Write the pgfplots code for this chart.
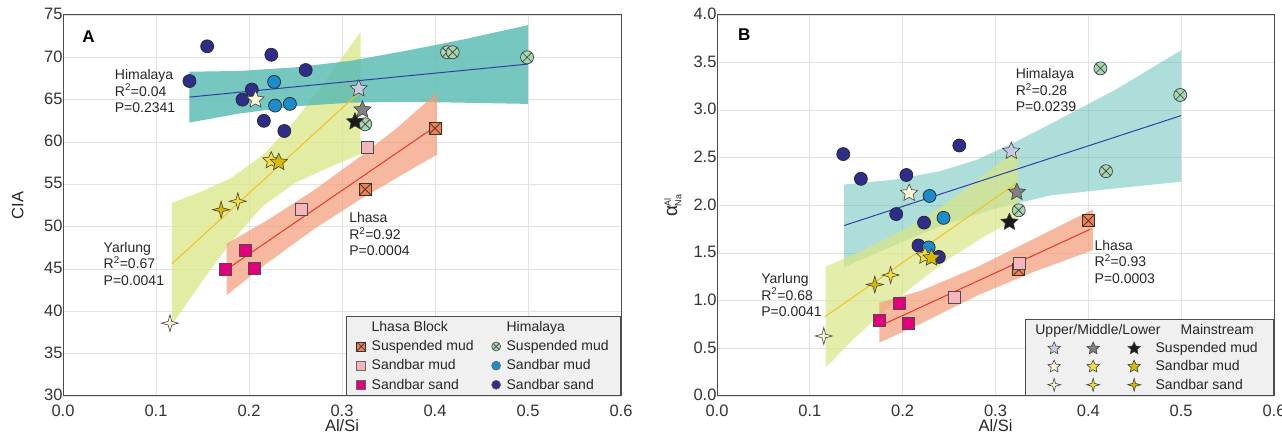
\documentclass[border=0pt]{standalone}
\usepackage{fontspec}
\setmainfont{Liberation Sans}
\usepackage{pgfplots}
\pgfplotsset{compat=1.18}

\definecolor{navyC}{HTML}{2E2D8A}
\definecolor{lblueC}{HTML}{1C8CCB}
\definecolor{greenC}{HTML}{A5D6AE}
\definecolor{orangeC}{HTML}{F08050}
\definecolor{pinkC}{HTML}{F4B6BC}
\definecolor{magC}{HTML}{E3007D}
\definecolor{lavC}{HTML}{C5CBE6}
\definecolor{grayC}{HTML}{808080}
\definecolor{blackC}{HTML}{1A1A1A}
\definecolor{creamC}{HTML}{FFF8D8}
\definecolor{yelC}{HTML}{F3E03A}
\definecolor{goldC}{HTML}{D6BA00}
\definecolor{tealC}{HTML}{5DBDB4}
\definecolor{ybandC}{HTML}{D8E684}
\definecolor{salC}{HTML}{F39C78}
\definecolor{bluelineC}{HTML}{3040A8}
\definecolor{yellineC}{HTML}{F2C21B}
\definecolor{redlineC}{HTML}{E53A2A}

\pgfdeclareplotmark{boxx}{%
  \pgfpathrectangle{\pgfpoint{-\pgfplotmarksize}{-\pgfplotmarksize}}{\pgfpoint{2\pgfplotmarksize}{2\pgfplotmarksize}}%
  \pgfusepathqfillstroke
  \pgfpathmoveto{\pgfpoint{-\pgfplotmarksize}{-\pgfplotmarksize}}%
  \pgfpathlineto{\pgfpoint{\pgfplotmarksize}{\pgfplotmarksize}}%
  \pgfpathmoveto{\pgfpoint{-\pgfplotmarksize}{\pgfplotmarksize}}%
  \pgfpathlineto{\pgfpoint{\pgfplotmarksize}{-\pgfplotmarksize}}%
  \pgfusepathqstroke
}
\pgfdeclareplotmark{fstar}{%
  \pgfpathmoveto{\pgfpointpolar{90}{\pgfplotmarksize}}%
  \pgfpathlineto{\pgfpointpolar{126}{0.47\pgfplotmarksize}}%
  \pgfpathlineto{\pgfpointpolar{162}{\pgfplotmarksize}}%
  \pgfpathlineto{\pgfpointpolar{198}{0.47\pgfplotmarksize}}%
  \pgfpathlineto{\pgfpointpolar{234}{\pgfplotmarksize}}%
  \pgfpathlineto{\pgfpointpolar{270}{0.47\pgfplotmarksize}}%
  \pgfpathlineto{\pgfpointpolar{306}{\pgfplotmarksize}}%
  \pgfpathlineto{\pgfpointpolar{342}{0.47\pgfplotmarksize}}%
  \pgfpathlineto{\pgfpointpolar{18}{\pgfplotmarksize}}%
  \pgfpathlineto{\pgfpointpolar{54}{0.47\pgfplotmarksize}}%
  \pgfpathclose
  \pgfusepathqfillstroke
}
\pgfdeclareplotmark{fspark}{%
  \pgfpathmoveto{\pgfpointpolar{90}{\pgfplotmarksize}}%
  \pgfpathlineto{\pgfpointpolar{135}{0.3\pgfplotmarksize}}%
  \pgfpathlineto{\pgfpointpolar{180}{\pgfplotmarksize}}%
  \pgfpathlineto{\pgfpointpolar{225}{0.3\pgfplotmarksize}}%
  \pgfpathlineto{\pgfpointpolar{270}{\pgfplotmarksize}}%
  \pgfpathlineto{\pgfpointpolar{315}{0.3\pgfplotmarksize}}%
  \pgfpathlineto{\pgfpointpolar{0}{\pgfplotmarksize}}%
  \pgfpathlineto{\pgfpointpolar{45}{0.3\pgfplotmarksize}}%
  \pgfpathclose
  \pgfusepathqfillstroke
}

\pgfplotsset{
  baseax/.style={
    scale only axis, width=558pt, height=381pt,
    xmin=0, xmax=0.6,
    xtick={0,0.1,0.2,0.3,0.4,0.5,0.6},
    grid=major, major grid style={draw=gray!22, line width=0.8pt},
    axis line style={draw=gray!60!black, line width=1pt},
    tick style={draw=none},
    /pgf/number format/assume math mode=true,
    ticklabel style={font=\fontsize{16.5}{18}\selectfont, text=black!80},
    x tick label style={/pgf/number format/.cd, fixed, fixed zerofill, precision=1, /tikz/.cd, yshift=-5pt},
    y tick label style={xshift=3pt, yshift=1pt},
    xlabel={Al/Si},
    label style={font=\fontsize{16.5}{18}\selectfont, text=black!85},
    xlabel style={at={(axis description cs:0.5,-0.078)}, anchor=center},
    legend cell align=left,
    legend style={at={(1,0)}, anchor=south east, fill=gray!12, draw=gray!60!black,
      line width=0.8pt, font=\fontsize{14}{16}\selectfont, text=black!85,
      nodes={inner sep=2pt}},
  },
  navy/.style={only marks, mark=*, mark size=6.5pt, mark options={fill=navyC, draw=black!85, line width=0.7pt}, forget plot},
  lblue/.style={only marks, mark=*, mark size=6.5pt, mark options={fill=lblueC, draw=black!85, line width=0.7pt}, forget plot},
  gcross/.style={only marks, mark=otimes*, mark size=6.5pt, mark options={fill=greenC, draw=black!75, line width=0.7pt}, forget plot},
  obox/.style={only marks, mark=boxx, mark size=6pt, mark options={fill=orangeC, draw=black!80, line width=0.7pt}, forget plot},
  pbox/.style={only marks, mark=square*, mark size=6pt, mark options={fill=pinkC, draw=black!70, line width=0.7pt}, forget plot},
  mbox/.style={only marks, mark=square*, mark size=6pt, mark options={fill=magC, draw=black!70, line width=0.7pt}, forget plot},
  st/.style={only marks, mark=fstar, mark size=9pt, mark options={fill=#1, draw=black!75, line width=0.6pt}, forget plot},
  sp/.style={only marks, mark=fspark, mark size=8.5pt, mark options={fill=#1, draw=black!75, line width=0.6pt}, forget plot},
  band/.style={draw=none, fill=#1, forget plot},
}

\newcommand{\legmark}[3]{\addlegendimage{legend image code/.code={\draw[mark=#1, mark size=#2, mark options={#3}] plot coordinates {(0pt,0pt)};}}}
\newcommand{\legstars}[5]{\addlegendimage{legend image code/.code={%
  \path (-14pt,0pt);
  \draw[mark=#1, mark size=#2, mark options={fill=#3, draw=black!75, line width=0.6pt}] plot coordinates {(0pt,0pt)};
  \draw[mark=#1, mark size=#2, mark options={fill=#4, draw=black!75, line width=0.6pt}] plot coordinates {(39pt,0pt)};
  \draw[mark=#1, mark size=#2, mark options={fill=#5, draw=black!75, line width=0.6pt}] plot coordinates {(80pt,0pt)};}}}

\begin{document}
\begin{tikzpicture}[x=1pt,y=1pt]
\useasboundingbox (0,0) rectangle (1282,438);

% ================= Panel A =================
\begin{axis}[baseax, at={(63pt,42pt)}, anchor=south west,
  ymin=30, ymax=75, ytick={30,35,40,45,50,55,60,65,70,75},
  ylabel={CIA},
  ylabel style={at={(axis description cs:-0.081,0.5)}, anchor=center},
  legend columns=2,
  legend style={inner xsep=10pt, inner ysep=3pt, row sep=3.5pt},
  /tikz/every odd column/.append style={column sep=4pt},
  /tikz/every even column/.append style={column sep=16pt},
]
% bands
\addplot[band=ybandC, fill opacity=0.75] coordinates {(0.117,52.8) (0.15,54.2) (0.18,55.7) (0.215,58.45) (0.25,62.6) (0.28,66.9) (0.32,73.0)
  (0.32,58.6) (0.28,56.7) (0.25,55.2) (0.215,52.45) (0.18,48.1) (0.15,43.6) (0.117,38.4)} -- cycle;
\addplot[band=tealC, fill opacity=0.85] coordinates {(0.136,68.3) (0.19,68.39) (0.25,68.82) (0.31,69.6) (0.37,70.8) (0.43,72.1) (0.50,73.8)
  (0.50,64.5) (0.43,64.64) (0.37,64.75) (0.31,64.65) (0.25,64.22) (0.19,63.37) (0.136,62.3)} -- cycle;
\addplot[band=salC, fill opacity=0.72] coordinates {(0.176,47.98) (0.22,50.78) (0.27,54.32) (0.32,58.30) (0.36,61.74) (0.402,65.8)
  (0.402,58.5) (0.36,55.84) (0.32,53.26) (0.27,49.72) (0.22,45.74) (0.176,41.92)} -- cycle;
% regression lines
\addplot[yellineC, line width=1pt, forget plot] coordinates {(0.117,45.6) (0.318,65.8)};
\addplot[bluelineC, line width=1pt, forget plot] coordinates {(0.136,65.3) (0.50,69.2)};
\addplot[redlineC, line width=1pt, forget plot] coordinates {(0.178,45.1) (0.402,61.95)};
% points
\addplot[navy] coordinates {(0.155,71.3) (0.224,70.3) (0.261,68.5) (0.136,67.2) (0.203,66.2) (0.193,65.0) (0.216,62.5) (0.238,61.3)};
\addplot[lblue] coordinates {(0.227,67.1) (0.228,64.3) (0.244,64.5)};
\addplot[gcross] coordinates {(0.413,70.6) (0.419,70.6) (0.499,70.0) (0.325,62.1)};
\addplot[obox] coordinates {(0.400,61.6) (0.325,54.4)};
\addplot[pbox] coordinates {(0.327,59.4) (0.256,52.0)};
\addplot[mbox] coordinates {(0.196,47.2) (0.175,45.0) (0.206,45.1)};
\addplot[st=lavC] coordinates {(0.318,66.3)};
\addplot[st=grayC] coordinates {(0.322,63.8)};
\addplot[st=blackC] coordinates {(0.314,62.4)};
\addplot[st=creamC] coordinates {(0.207,65.0)};
\addplot[st=yelC] coordinates {(0.224,57.8)};
\addplot[st=goldC] coordinates {(0.232,57.6)};
\addplot[sp=creamC] coordinates {(0.115,38.6)};
\addplot[sp=yelC] coordinates {(0.188,53.0)};
\addplot[sp=goldC] coordinates {(0.170,52.0)};
% annotations
\node[anchor=west, font=\bfseries\fontsize{17}{19}\selectfont] at (axis cs:0.017,72.5) {A};
\node[anchor=west, align=left, font=\fontsize{14}{16.5}\selectfont, text=black!85] at (axis cs:0.052,66.0) {Himalaya\\R\textsuperscript{2}=0.04\\P=0.2341};
\node[anchor=west, align=left, font=\fontsize{14}{16.5}\selectfont, text=black!85] at (axis cs:0.040,45.6) {Yarlung\\R\textsuperscript{2}=0.67\\P=0.0041};
\node[anchor=west, align=left, font=\fontsize{14}{16.5}\selectfont, text=black!85] at (axis cs:0.304,49.1) {Lhasa\\R\textsuperscript{2}=0.92\\P=0.0004};
% legend
\addlegendimage{empty legend}\addlegendentry{Lhasa Block}
\addlegendimage{empty legend}\addlegendentry{Himalaya}
\legmark{boxx}{4.5pt}{fill=orangeC,draw=black!80,line width=0.6pt}\addlegendentry{Suspended mud}
\legmark{otimes*}{4.5pt}{fill=greenC,draw=black!70,line width=0.6pt}\addlegendentry{Suspended mud}
\legmark{square*}{4.5pt}{fill=pinkC,draw=black!60,line width=0.6pt}\addlegendentry{Sandbar mud}
\legmark{*}{4.5pt}{fill=lblueC,draw=black!60,line width=0.6pt}\addlegendentry{Sandbar mud}
\legmark{square*}{4.5pt}{fill=magC,draw=black!60,line width=0.6pt}\addlegendentry{Sandbar sand}
\legmark{*}{4.5pt}{fill=navyC,draw=black!60,line width=0.6pt}\addlegendentry{Sandbar sand}
\end{axis}

% ================= Panel B =================
\begin{axis}[baseax, at={(717pt,42pt)}, anchor=south west, width=557pt,
  ymin=0, ymax=4, ytick={0,0.5,1,1.5,2,2.5,3,3.5,4},
  y tick label style={/pgf/number format/.cd, fixed, fixed zerofill, precision=1},
  ylabel={{\fontsize{19}{20}\selectfont α}$^{\mbox{\fontsize{9}{9}\selectfont Al}}_{\mbox{\fontsize{9}{9}\selectfont Na}}$},
  ylabel style={at={(axis description cs:-0.079,0.5)}, anchor=center},
  legend columns=1,
  legend style={inner xsep=14pt, inner ysep=3pt, row sep=2.5pt},
  /tikz/every odd column/.append style={column sep=13pt},
]
\addplot[band=tealC, fill opacity=0.5] coordinates {(0.137,2.22) (0.19,2.27) (0.24,2.36) (0.28,2.48) (0.32,2.66) (0.36,2.86) (0.43,3.22) (0.50,3.63)
  (0.50,2.25) (0.43,2.18) (0.36,2.107) (0.30,1.97) (0.24,1.78) (0.19,1.579) (0.137,1.353)} -- cycle;
\addplot[band=ybandC, fill opacity=0.7] coordinates {(0.117,1.357) (0.15,1.499) (0.18,1.639) (0.21,1.795) (0.25,2.041) (0.29,2.339) (0.324,2.60)
  (0.324,1.864) (0.29,1.687) (0.25,1.441) (0.21,1.143) (0.18,0.891) (0.15,0.623) (0.117,0.30)} -- cycle;
\addplot[band=salC, fill opacity=0.72] coordinates {(0.175,0.98) (0.22,1.106) (0.28,1.353) (0.34,1.643) (0.405,1.96)
  (0.405,1.531) (0.34,1.299) (0.28,1.053) (0.22,0.762) (0.175,0.56)} -- cycle;
\addplot[yellineC, line width=1pt, forget plot] coordinates {(0.116,0.83) (0.322,2.23)};
\addplot[bluelineC, line width=1pt, forget plot] coordinates {(0.137,1.79) (0.50,2.944)};
\addplot[redlineC, line width=1pt, forget plot] coordinates {(0.181,0.76) (0.402,1.75)};
\addplot[navy] coordinates {(0.136,2.54) (0.155,2.28) (0.204,2.32) (0.261,2.63) (0.193,1.91) (0.223,1.82) (0.217,1.58) (0.239,1.46)};
\addplot[lblue] coordinates {(0.229,2.10) (0.244,1.87) (0.228,1.56)};
\addplot[gcross] coordinates {(0.413,3.44) (0.499,3.16) (0.419,2.36) (0.325,1.95)};
\addplot[obox] coordinates {(0.400,1.84) (0.325,1.325)};
\addplot[pbox] coordinates {(0.326,1.39) (0.256,1.04)};
\addplot[mbox] coordinates {(0.196,0.97) (0.175,0.79) (0.206,0.76)};
\addplot[st=lavC] coordinates {(0.317,2.57)};
\addplot[st=grayC] coordinates {(0.323,2.14)};
\addplot[st=blackC] coordinates {(0.315,1.825)};
\addplot[st=creamC] coordinates {(0.207,2.13)};
\addplot[st=yelC] coordinates {(0.224,1.47)};
\addplot[st=goldC] coordinates {(0.231,1.45)};
\addplot[sp=creamC] coordinates {(0.115,0.63)};
\addplot[sp=yelC] coordinates {(0.187,1.27)};
\addplot[sp=goldC] coordinates {(0.170,1.17)};
\node[anchor=west, font=\bfseries\fontsize{17}{19}\selectfont] at (axis cs:0.019,3.79) {B};
\node[anchor=west, align=left, font=\fontsize{14}{16.5}\selectfont, text=black!85] at (axis cs:0.318,3.21) {Himalaya\\R\textsuperscript{2}=0.28\\P=0.0239};
\node[anchor=west, align=left, font=\fontsize{14}{16.5}\selectfont, text=black!85] at (axis cs:0.044,1.06) {Yarlung\\R\textsuperscript{2}=0.68\\P=0.0041};
\node[anchor=west, align=left, font=\fontsize{14}{16.5}\selectfont, text=black!85] at (axis cs:0.403,1.41) {Lhasa\\R\textsuperscript{2}=0.93\\P=0.0003};
\addlegendimage{empty legend}\addlegendentry{\llap{Upper/Middle/Lower\hspace{-5pt}}\hspace{25pt}Mainstream}
\legstars{fstar}{6.5pt}{lavC}{grayC}{blackC}\addlegendentry{Suspended mud}
\legstars{fstar}{6.5pt}{creamC}{yelC}{goldC}\addlegendentry{Sandbar mud}
\legstars{fspark}{6.5pt}{creamC}{yelC}{goldC}\addlegendentry{Sandbar sand}
\end{axis}
\end{tikzpicture}
\end{document}
